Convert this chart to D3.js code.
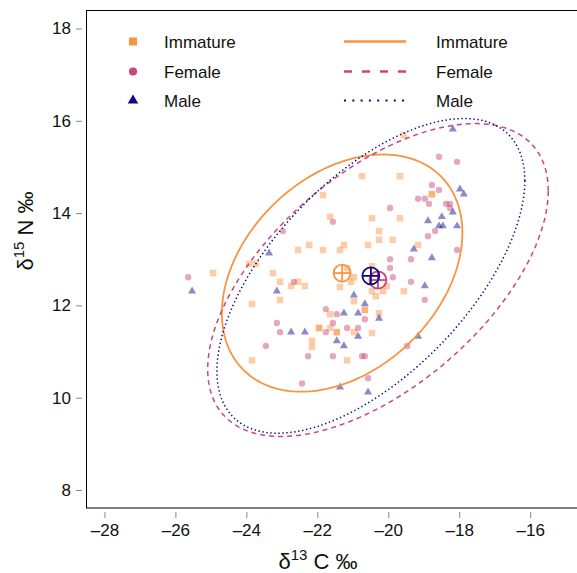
<!DOCTYPE html>
<html>
<head>
<meta charset="utf-8">
<script src="https://cdn.jsdelivr.net/npm/d3@7"></script>
<style>
  body { margin: 0; background: #fff; }
  svg { display: block; }
  text { font-family: "Liberation Sans", Arial, Helvetica, sans-serif; fill: #111; }
</style>
</head>
<body>
<svg id="chart" width="577" height="573"></svg>
<script>
// isotope values (d13C, d15N)
const immatureX = [-19.56, -20.74, -19.67, -21.84, -21.64, -18.77, -18.77, -20.46, -19.67, -20.26, -20.26, -19.87,
  -19.16, -22.54, -22.23, -21.84, -21.36, -21.25, -20.57, -23.92, -23.73, -24.94, -23.25, -23.05, -22.74, -22.54,
  -22.35, -23.84, -23.05, -21.64, -20.97, -20.66, -20.66, -21.95, -21.95, -21.45, -21.45, -21.64, -20.97, -22.15,
  -22.15, -21.16, -23.84, -19.56, -21.36, -21.05, -20.97, -20.46, -20.35, -20.15, -20.04, -20.26, -20.46, -21.16, -20.46];
const immatureY = [15.69, 14.80, 14.80, 14.39, 13.92, 14.41, 14.41, 13.89, 13.89, 13.61, 13.42, 13.42,
  13.31, 13.20, 13.31, 13.20, 13.20, 13.31, 13.31, 12.90, 12.90, 12.70, 12.70, 12.51, 12.42, 12.51,
  12.42, 12.03, 12.12, 11.81, 12.09, 11.90, 11.90, 11.51, 11.51, 11.42, 11.42, 11.51, 11.42, 11.23,
  11.10, 10.81, 10.81, 12.31, 12.40, 12.51, 12.61, 12.31, 12.20, 12.31, 12.42, 11.83, 11.40, 12.81, 12.85];

const femaleX = [-18.57, -18.06, -18.77, -18.57, -19.16, -18.97, -18.85, -18.37, -18.26, -18.26, -19.95, -18.68,
  -18.88, -18.06, -19.95, -19.36, -19.95, -21.56, -22.97, -25.64, -22.66, -21.76, -21.45, -20.66, -23.14, -23.05,
  -21.76, -21.56, -21.16, -20.85, -23.45, -22.26, -21.56, -20.74, -20.66, -22.43, -20.57, -19.87, -19.36, -18.97, -19.47];
const femaleY = [15.22, 15.11, 14.61, 14.50, 14.31, 14.31, 14.20, 14.20, 14.20, 14.11, 14.11, 13.61,
  13.50, 13.20, 13.00, 13.00, 12.81, 13.81, 13.61, 12.61, 12.51, 11.92, 11.81, 11.70, 11.62, 11.42,
  11.42, 11.62, 11.51, 11.51, 11.12, 10.90, 10.90, 10.90, 10.90, 10.31, 10.42, 12.61, 12.51, 12.12, 11.12];

const maleX = [-18.18, -23.36, -17.98, -17.87, -18.18, -18.49, -18.88, -18.57, -18.46, -18.06, -19.28, -18.77,
  -25.53, -23.14, -20.97, -20.66, -21.25, -20.85, -22.74, -22.35, -20.85, -21.45, -21.25, -21.36, -20.57,
  -18.97, -20.26, -19.16];
const maleY = [15.82, 13.13, 14.52, 14.41, 14.02, 13.92, 13.83, 13.72, 13.72, 13.72, 13.22, 13.03,
  12.31, 12.31, 12.22, 12.03, 11.83, 11.83, 11.42, 11.42, 11.33, 11.23, 11.12, 10.23, 10.12,
  12.42, 11.72, 11.33];

// groups, centroids and ellipse shape (half-extent in x / y and correlation)
const groups = ["Immature", "Female", "Male"];
const groupColors = ["#F89441", "#CC4678", "#0D0887"];
const meanX = [-21.30, -20.29, -20.49];
const meanY = [12.70, 12.55, 12.64];
const ellSdX = [3.39, 4.80, 4.34];
const ellSdY = [2.57, 3.39, 3.41];
const ellRho = [0.34, 0.57, 0.605];

const xTicks = [-28, -26, -24, -22, -20, -18, -16];
const yTicks = [8, 10, 12, 14, 16, 18];

const svg = d3.select("#chart");

const x = d3.scaleLinear().domain([-28.52, -14.68]).range([86, 577]);
const y = d3.scaleLinear().domain([7.61, 18.39]).range([508, 10.5]);

// frame
svg.append("rect")
  .attr("x", 86.5).attr("y", 10.5)
  .attr("width", 520).attr("height", 497.5)
  .attr("fill", "none").attr("stroke", "#000").attr("stroke-width", 1);

// axes (ticks are offset from the frame)
const yAxis = svg.append("g").attr("transform", "translate(82,0)")
  .call(d3.axisLeft(y).tickValues(yTicks).tickSize(6).tickPadding(5).tickFormat(d3.format("d")));
const xAxis = svg.append("g").attr("transform", "translate(0,512)")
  .call(d3.axisBottom(x).tickValues(xTicks).tickSize(6).tickPadding(6)
    .tickFormat(d => (d < 0 ? "\u2013" + Math.abs(d) : d)));
[xAxis, yAxis].forEach(a => {
  a.select(".domain").remove();
  a.selectAll(".tick line").attr("stroke", "#888");
  a.selectAll(".tick text").attr("font-size", 17).attr("fill", "#111")
    .style("font-family", '"Liberation Sans", Arial, Helvetica, sans-serif');
});
xAxis.selectAll(".tick text").style("font-weight", d => (d < 0 ? null : null));

// axis titles
const xt = svg.append("text").attr("x", 318).attr("y", 569).attr("text-anchor", "middle").attr("font-size", 22);
xt.append("tspan").text("\u03B4");
xt.append("tspan").attr("font-size", 15).attr("dy", -9).text("13");
xt.append("tspan").attr("dy", 9).text(" C \u2030");

const yt = svg.append("text").attr("transform", "translate(33,231) rotate(-90)")
  .attr("text-anchor", "middle").attr("font-size", 22);
yt.append("tspan").text("\u03B4");
yt.append("tspan").attr("font-size", 15).attr("dy", -9).text("15");
yt.append("tspan").attr("dy", 9).text(" N \u2030");

// points
const seriesX = [immatureX, femaleX, maleX];
const seriesY = [immatureY, femaleY, maleY];
const shapes = [d3.symbolSquare, d3.symbolCircle, d3.symbolTriangle];
const sizes = [42, 32, 28];

groups.forEach((g, i) => {
  const pts = seriesX[i].map((v, j) => [v, seriesY[i][j]]);
  svg.append("g").selectAll("path").data(pts).join("path")
    .attr("transform", d => `translate(${x(d[0])},${y(d[1])})`)
    .attr("d", d3.symbol().type(shapes[i]).size(sizes[i]))
    .attr("fill", groupColors[i])
    .attr("fill-opacity", 0.47);
});

// ellipses
const dashes = [null, "5,4", "1.4,2.6"];
const widths = [1.8, 1.5, 1.5];
const ang = d3.range(0, 360, 2).map(a => a * Math.PI / 180);
const line = d3.line().x(d => x(d[0])).y(d => y(d[1])).curve(d3.curveLinearClosed);
groups.forEach((g, i) => {
  const pts = ang.map(t => [
    meanX[i] + ellSdX[i] * Math.cos(t),
    meanY[i] + ellSdY[i] * (ellRho[i] * Math.cos(t) + Math.sqrt(1 - ellRho[i] ** 2) * Math.sin(t))
  ]);
  svg.append("path").attr("d", line(pts))
    .attr("fill", "none")
    .attr("stroke", groupColors[i])
    .attr("stroke-width", widths[i])
    .attr("stroke-dasharray", dashes[i]);
});

// centroids (circle with cross)
[0, 1, 2].forEach(i => {
  const cx = x(meanX[i]), cy = y(meanY[i]), r = 8.5;
  const c = svg.append("g").attr("stroke", groupColors[i]).attr("stroke-width", 1.8).attr("fill", "none");
  c.append("circle").attr("cx", cx).attr("cy", cy).attr("r", r);
  c.append("line").attr("x1", cx - r).attr("x2", cx + r).attr("y1", cy).attr("y2", cy);
  c.append("line").attr("x1", cx).attr("x2", cx).attr("y1", cy - r).attr("y2", cy + r);
});

// legend
const legRows = [41.5, 71.5, 100.5];
const legSizes = [64, 52, 48];
groups.forEach((g, i) => {
  svg.append("path")
    .attr("transform", `translate(133,${legRows[i]})`)
    .attr("d", d3.symbol().type(shapes[i]).size(legSizes[i]))
    .attr("fill", groupColors[i]);
  svg.append("text").attr("x", 164).attr("y", legRows[i] + 6.5).attr("font-size", 17).text(g);
  svg.append("line")
    .attr("x1", 344).attr("x2", 406).attr("y1", legRows[i]).attr("y2", legRows[i])
    .attr("stroke", groupColors[i])
    .attr("stroke-width", i === 2 ? 2 : 2.4)
    .attr("stroke-dasharray", [null, "8,10", "2,6.3"][i]);
  svg.append("text").attr("x", 436).attr("y", legRows[i] + 6.5).attr("font-size", 17).text(g);
});
</script>
</body>
</html>
